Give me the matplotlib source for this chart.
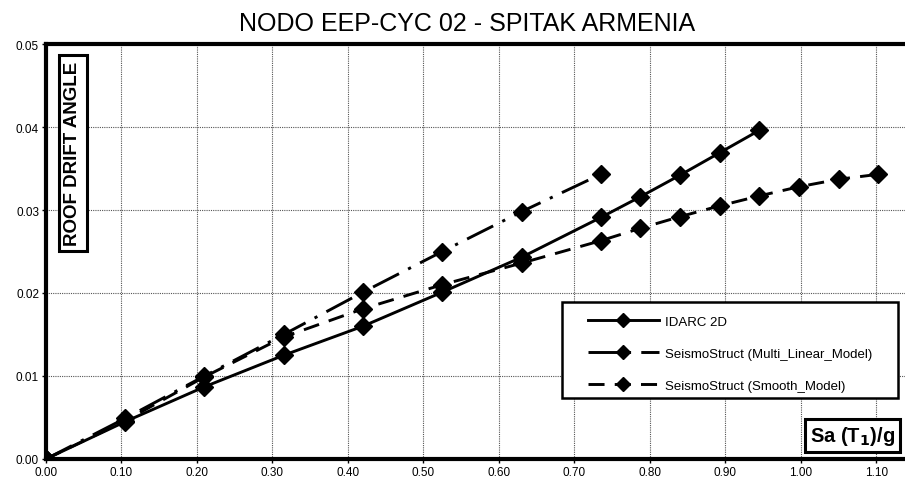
import matplotlib.pyplot as plt
from matplotlib.patches import Rectangle

plt.rcParams['font.family'] = ['Liberation Sans', 'DejaVu Sans']

# Sa(T1)/g levels and roof drift angle per model
sa_idarc = [0.0, 0.105, 0.21, 0.315, 0.42, 0.525, 0.63, 0.735, 0.7875, 0.84, 0.8925, 0.945]
drift_idarc = [0.0, 0.0045, 0.0087, 0.0125, 0.0160, 0.0201, 0.0243, 0.0291, 0.0316, 0.0342, 0.0369, 0.0396]

sa_multi = [0.0, 0.105, 0.21, 0.315, 0.42, 0.525, 0.63, 0.735]
drift_multi = [0.0, 0.0049, 0.0100, 0.0150, 0.0201, 0.0250, 0.0298, 0.0343]

sa_smooth = [0.0, 0.105, 0.21, 0.315, 0.42, 0.525, 0.63, 0.735, 0.7875, 0.84, 0.8925,
             0.945, 0.9975, 1.05, 1.1025]
drift_smooth = [0.0, 0.0046, 0.0099, 0.0147, 0.0181, 0.0210, 0.0236, 0.0263, 0.0278,
                0.0292, 0.0305, 0.0317, 0.0328, 0.0337, 0.0343]

xticks = [0.0, 0.1, 0.2, 0.3, 0.4, 0.5, 0.6, 0.7, 0.8, 0.9, 1.0, 1.1]
yticks = [0.0, 0.01, 0.02, 0.03, 0.04, 0.05]

fig = plt.figure(figsize=(9.05, 4.81), dpi=100)
ax = fig.add_axes([0.0508, 0.0437, 0.9492, 0.8627])

ax.plot(sa_idarc, drift_idarc, color='black', lw=2.1, marker='D', ms=9,
        label='IDARC 2D', zorder=3)
ax.plot(sa_multi, drift_multi, color='black', lw=2.1, marker='D', ms=9,
        dashes=(10, 3.5, 1.1, 3.5), label='SeismoStruct (Multi_Linear_Model)', zorder=3)
ax.plot(sa_smooth, drift_smooth, color='black', lw=2.1, marker='D', ms=9,
        dashes=(5.5, 3.5), label='SeismoStruct (Smooth_Model)', zorder=3)

ax.set_xlim(0, 1.138)
ax.set_ylim(0, 0.05)
ax.set_xticks(xticks)
ax.set_yticks(yticks)
ax.set_xticklabels(['%.2f' % v for v in xticks])
ax.set_yticklabels(['%.2f' % v for v in yticks])
ax.tick_params(labelsize=8.5, length=3, width=1, direction='out', pad=2)
ax.grid(True, color='#555555', ls=(0, (1, 1)), lw=0.8)

for side in ['left', 'bottom', 'top']:
    ax.spines[side].set_linewidth(3)
ax.spines['right'].set_visible(False)

ax.set_title('NODO EEP-CYC 02 - SPITAK ARMENIA', fontsize=18, pad=10, x=0.49)

ax.text(0.0314, 0.959, 'ROOF DRIFT ANGLE', transform=ax.transAxes, rotation=90,
        ha='center', va='top', fontsize=13.5, fontweight='bold',
        bbox=dict(boxstyle='square,pad=0.3', fc='white', ec='black', lw=2.2))
ax.text(0.988, 0.028, r'Sa (T$_\mathbf{1}$)/g', transform=ax.transAxes,
        ha='right', va='bottom', fontsize=14.5, fontweight='bold',
        bbox=dict(boxstyle='square,pad=0.25', fc='white', ec='black', lw=2.2))

# legend frame drawn separately so the side padding can be wider than the top
ax.add_patch(Rectangle((0.6007, 0.147), 0.3912, 0.231, transform=ax.transAxes,
                       fc='white', ec='black', lw=1.8, zorder=4))
leg = ax.legend(loc='center', bbox_to_anchor=(0.7963, 0.2537), fontsize=9.5,
                frameon=False, handlelength=5.4, handletextpad=0.45,
                labelspacing=1.5, borderpad=0, markerscale=0.75)
leg.set_zorder(5)

fig.savefig('out.png', dpi=100)
